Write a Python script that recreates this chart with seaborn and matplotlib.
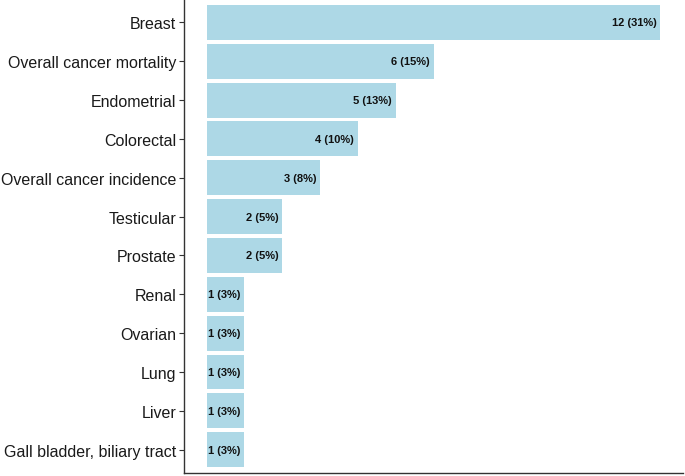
import matplotlib
matplotlib.use("Agg")
import matplotlib.pyplot as plt
import seaborn as sns
import pandas as pd

categories = ["Breast", "Overall cancer mortality", "Endometrial", "Colorectal",
              "Overall cancer incidence", "Testicular", "Prostate", "Renal",
              "Ovarian", "Lung", "Liver", "Gall bladder, biliary tract"]
counts = [12, 6, 5, 4, 3, 2, 2, 1, 1, 1, 1, 1]
percents = [31, 15, 13, 10, 8, 5, 5, 3, 3, 3, 3, 3]

df = pd.DataFrame({"cat": categories, "n": counts, "pct": percents})

sns.set_theme(style="white")
plt.rcParams["font.family"] = ["Liberation Sans", "DejaVu Sans"]

fig = plt.figure(figsize=(6.85, 4.77), dpi=100)
ax = fig.add_axes([184 / 685, 3 / 477, 499 / 685, 474 / 477])

sns.barplot(data=df, y="cat", x="n", order=categories, color="#ADD8E6",
            saturation=1, width=0.9, ax=ax, orient="h", linewidth=0)

for i, (n, p) in enumerate(zip(counts, percents)):
    ax.text(n - 0.1, i, f"{n} ({p}%)", ha="right", va="center",
            fontsize=8, fontweight="bold", color="#111111")

ax.set_xlim(-0.6, 12.6)
ax.set_ylim(11.6, -0.6)
ax.set_xlabel("")
ax.set_ylabel("")
ax.set_xticks([])
ax.tick_params(axis="y", labelsize=11.5, colors="#333333", length=3.5, width=0.8,
               left=True, pad=2)
for lab in ax.get_yticklabels():
    lab.set_color("#1a1a1a")
for s in ["top", "right"]:
    ax.spines[s].set_visible(False)
for s in ["left", "bottom"]:
    ax.spines[s].set_visible(True)
    ax.spines[s].set_color("#333333")
    ax.spines[s].set_linewidth(1.0)

fig.savefig("out.png", dpi=100)
